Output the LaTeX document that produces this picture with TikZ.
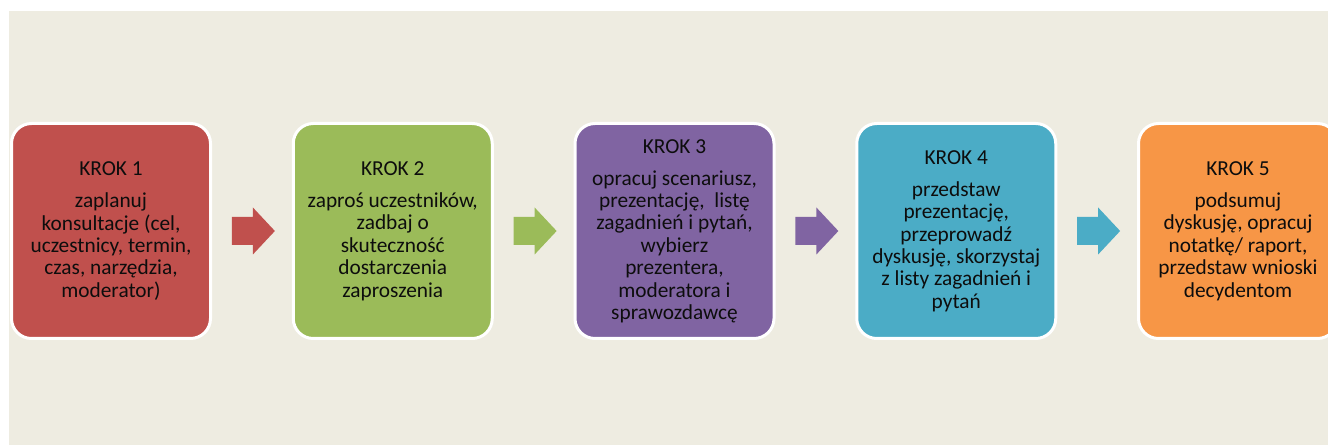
\documentclass[tikz,border=0pt]{standalone}
\usepackage{fontspec}
\setmainfont{Carlito}
\usetikzlibrary{calc}
\definecolor{bgc}{HTML}{EEECE1}
\definecolor{c1}{HTML}{C0504D}
\definecolor{c2}{HTML}{9BBB59}
\definecolor{c3}{HTML}{8064A2}
\definecolor{c4}{HTML}{4BACC6}
\definecolor{c5}{HTML}{F79646}
\begin{document}
\begin{tikzpicture}[x=0.75pt,y=-0.75pt,
  stepbox/.style={draw=white, line width=2.25pt, rounded corners=15pt,
    minimum width=149.25pt, minimum height=161.25pt, inner sep=0pt,
    align=center, text=black!95, font=\fontsize{16}{16.8}\selectfont}]
\clip (0,0) rectangle (1328,445);
\fill[white] (0,0) rectangle (1328,445);
\fill[bgc] (9,11) rectangle (1328,445);

\node[stepbox, fill=c1] (b1) at (111,231) {KROK 1\\[7.2pt]zaplanuj\\konsultacje (cel,\\uczestnicy, termin,\\czas, narzędzia,\\moderator)};
\node[stepbox, fill=c2] (b2) at (392.75,231) {KROK 2\\[7.2pt]zaproś uczestników,\\zadbaj o\\skuteczność\\dostarczenia\\zaproszenia};
\node[stepbox, fill=c3] (b3) at (674.5,231) {KROK 3\\[7.2pt]opracuj scenariusz,\\prezentację, \ listę\\zagadnień i pytań,\\wybierz\\prezentera,\\moderatora i\\sprawozdawcę};
\node[stepbox, fill=c4] (b4) at (956.25,231) {KROK 4\\[7.2pt]przedstaw\\prezentację,\\przeprowadź\\dyskusję, skorzystaj\\z listy zagadnień i\\pytań};
\node[stepbox, fill=c5] (b5) at (1238,231) {KROK 5\\[7.2pt]podsumuj\\dyskusję, opracuj\\notatkę/ raport,\\przedstaw wnioski\\decydentom};

\foreach \a/\b/\c in {b1/b2/c1, b2/b3/c2, b3/b4/c3, b4/b5/c4}{
  \coordinate (m\a) at ($($(\a.east)!0.5!(\b.west)$)+(1.5,0)$);
  \fill[\c, shift={(m\a)}] (-21.5,-14) -- (-0.5,-14) -- (-0.5,-23.5) -- (21.5,0)
     -- (-0.5,23.5) -- (-0.5,14) -- (-21.5,14) -- cycle;
}
\end{tikzpicture}
\end{document}
